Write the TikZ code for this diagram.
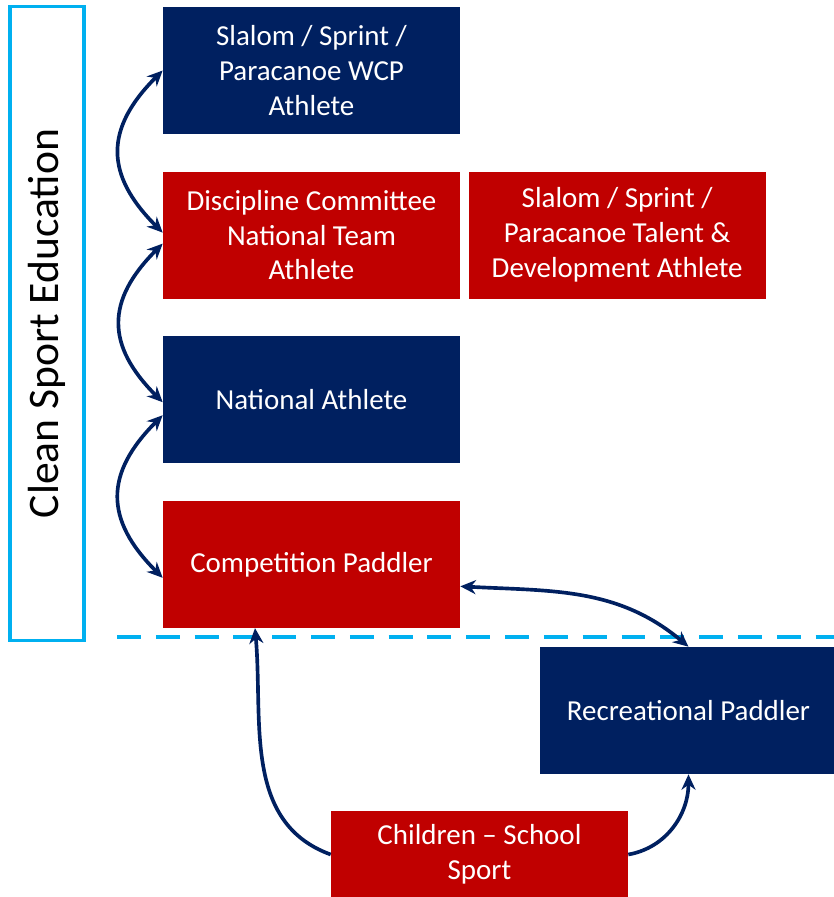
\documentclass[tikz,border=0pt]{standalone}
\usepackage{fontspec}
\setmainfont{Carlito}
\usepackage{tikz}
\usetikzlibrary{arrows.meta, positioning, calc}
\definecolor{navybox}{HTML}{002060}
\definecolor{redbox}{HTML}{C00000}
\definecolor{cleanblue}{HTML}{00B0F0}

\begin{document}
\begin{tikzpicture}[x=0.025cm, y=0.025cm, >={Stealth[length=11pt,width=10pt]},
  node distance=0.925cm and 0.2cm,
  stagebox/.style={rectangle, minimum width=7.425cm, minimum height=3.175cm, inner sep=0pt, text=white, align=center, font=\fontsize{20.6}{24.8}\selectfont},
  navystage/.style={stagebox, fill=navybox},
  redstage/.style={stagebox, fill=redbox},
  link/.style={<->, line width=2.6pt, navybox},
  uplink/.style={->, line width=2.6pt, navybox}]

    \useasboundingbox (0,0) rectangle (834,-897);
    \clip (0,0) rectangle (834,-897);

    % Clean sport education frame
    \node (clean) [draw=cleanblue, line width=2.2pt, rotate=90, minimum width=15.825cm, minimum height=1.85cm, font=\fontsize{31}{36}\selectfont] at (47,-323.5) {Clean Sport Education};

    % Pathway stages
    \node (wcp) [navystage] at (311.5,-70.5) {Slalom / Sprint /\\Paracanoe WCP\\Athlete};
    \node (team) [redstage, below=of wcp] {Discipline Committee\\National Team\\Athlete};
    \node (talent) [redstage, right=of team] {Slalom / Sprint /\\Paracanoe Talent \&\\Development Athlete};
    \node (national) [navystage, below=of team] {National Athlete};
    \node (comp) [redstage, below=of national] {Competition Paddler};

    % Below the line
    \node (rec) [navystage] at (688.5,-710.5) {Recreational Paddler};
    \node (school) [redstage, minimum height=2.175cm] at (479.5,-854.5) {Children -- School\\Sport};

    % Dashed divider
    \coordinate (divstart) at (117,-637);
    \coordinate (divend) at (840,-637);
    \draw[cleanblue, line width=2.8pt, dash pattern=on 17pt off 10.6pt] (divstart) -- (divend);

    % Links between stages
    \draw[link] (wcp.west) to[out=225, in=135, looseness=1.3] ($(team.west)+(0,2.5)$);
    \draw[link] ($(team.west)+(0,-8.5)$) to[out=225, in=135, looseness=1.3] ($(national.west)+(0,-2.5)$);
    \draw[link] ($(national.west)+(0,-15.5)$) to[out=225, in=135, looseness=1.3] ($(comp.west)+(0,-13.5)$);
    \draw[link] ($(comp.east)+(0,-22)$) to[out=-3, in=140] (rec.north);
    \draw[uplink] (school.west) to[out=160, in=-85] ($(comp.south)+(-56.5,0)$);
    \draw[uplink] (school.east) to[out=10, in=-90] (rec.south);
\end{tikzpicture}
\end{document}
